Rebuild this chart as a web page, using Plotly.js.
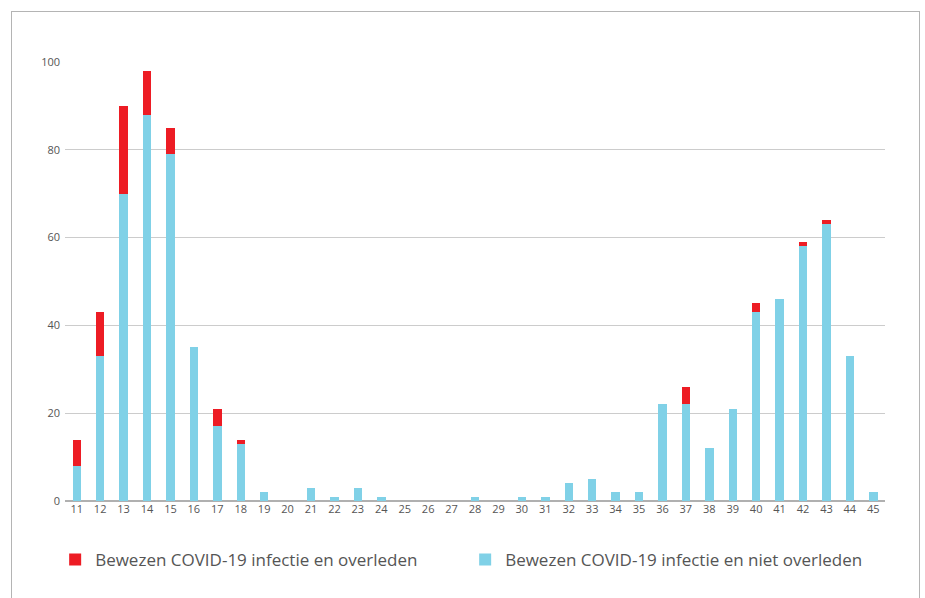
<!DOCTYPE html>
<html>
<head>
<meta charset="utf-8">
<script src="https://cdn.plot.ly/plotly-3.0.1.min.js"></script>
<style>
  html, body { margin: 0; padding: 0; background: #fff; }
  #wrap { position: relative; width: 925px; height: 598px; overflow: hidden; }
  #frame { position: absolute; left: 11px; top: 11px; width: 909px; height: 700px;
           border: 1px solid #b4b4b4; box-sizing: border-box; pointer-events: none; }
  #chart { position: absolute; left: 0; top: 0; width: 925px; height: 598px; }
</style>
</head>
<body>
<div id="wrap">
  <div id="chart"></div>
  <div id="frame"></div>
</div>
<script>
const weeks = [11,12,13,14,15,16,17,18,19,20,21,22,23,24,25,26,27,28,29,30,31,32,33,34,35,36,37,38,39,40,41,42,43,44,45];
const nietOverleden = [8,33,70,88,79,35,17,13,2,0,3,1,3,1,0,0,0,1,0,1,1,4,5,2,2,22,22,12,21,43,46,58,63,33,2];
const overleden =     [6,10,20,10,6,0,4,1,0,0,0,0,0,0,0,0,0,0,0,0,0,0,0,0,0,0,4,0,0,2,0,1,1,0,0];
const seriesNames = ['Bewezen COVID-19 infectie en overleden', 'Bewezen COVID-19 infectie en niet overleden'];
const yTicks = [0,20,40,60,80,100];

const traces = [
  { type: 'bar', x: weeks, y: nietOverleden, name: seriesNames[1],
    marker: { color: '#80D1E7' }, width: 0.36, hoverinfo: 'x+y' },
  { type: 'bar', x: weeks, y: overleden, name: seriesNames[0],
    marker: { color: '#ED1C24' }, width: 0.36, hoverinfo: 'x+y' }
];

const layout = {
  width: 925, height: 598,
  margin: { l: 65, r: 40, t: 62, b: 97 },
  paper_bgcolor: '#fff', plot_bgcolor: '#fff',
  barmode: 'stack',
  font: { family: '"Open Sans", "Noto Sans", sans-serif', color: '#555', size: 11 },
  xaxis: {
    range: [10.5, 45.5], tickmode: 'array', tickvals: weeks, ticktext: weeks.map(String),
    showgrid: false, zeroline: false, showline: false, ticks: '',
    tickfont: { size: 11, color: '#555' }, fixedrange: true
  },
  yaxis: {
    range: [0, 100], tickmode: 'array', tickvals: yTicks,
    showgrid: true, gridcolor: '#cccccc', gridwidth: 1,
    zeroline: true, zerolinecolor: '#b0b0b0', zerolinewidth: 1.5,
    showline: false, ticks: '', ticklabelstandoff: 4,
    tickfont: { size: 11, color: '#555' }, fixedrange: true
  },
  showlegend: true,
  legend: {
    orientation: 'h', traceorder: 'reversed',
    x: -0.012, xanchor: 'left', y: -0.134, yanchor: 'middle',
    font: { size: 17, color: '#555', family: '"Open Sans", "Noto Sans", sans-serif' },
    entrywidth: 365, itemclick: false, itemdoubleclick: false
  }
};

Plotly.newPlot('chart', traces, layout, { displayModeBar: false, staticPlot: true });
</script>
</body>
</html>
